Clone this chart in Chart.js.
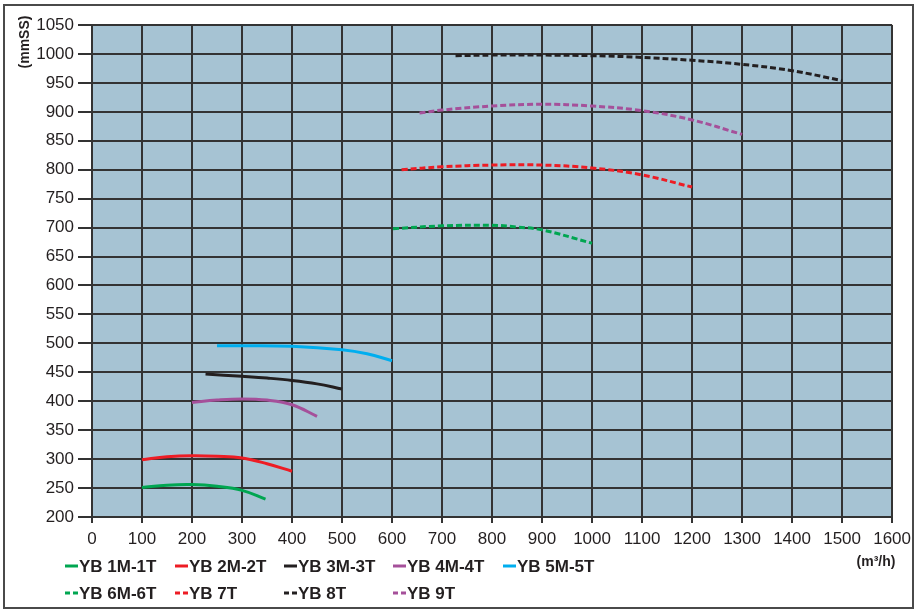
<!DOCTYPE html>
<html>
<head>
<meta charset="utf-8">
<script src="https://cdn.jsdelivr.net/npm/chart.js@4/dist/chart.umd.min.js"></script>
<style>
  html, body { margin: 0; padding: 0; background: #fff; }
  #wrap { position: relative; width: 917px; height: 612px; }
</style>
</head>
<body>
<div id="wrap"><canvas id="c" width="917" height="612"></canvas></div>
<script>
// ---- data ----
const xTicks = [0,100,200,300,400,500,600,700,800,900,1000,1100,1200,1300,1400,1500,1600];
const yTicks = [200,250,300,350,400,450,500,550,600,650,700,750,800,850,900,950,1000,1050];

const labels = ["YB 1M-1T","YB 2M-2T","YB 3M-3T","YB 4M-4T","YB 5M-5T","YB 6M-6T","YB 7T","YB 8T","YB 9T"];

const yb1x = [100, 150, 200, 250, 300, 347];
const yb1y = [251, 255, 256, 253, 246, 231];

const yb2x = [100, 150, 200, 250, 300, 350, 400];
const yb2y = [299, 304, 306, 305, 302, 292, 279];

const yb3x = [227, 300, 350, 400, 450, 500];
const yb3y = [447, 443, 440, 436, 430, 421];

const yb4x = [200, 250, 300, 350, 400, 450];
const yb4y = [398, 402, 404, 402, 394, 374];

const yb5x = [250, 300, 400, 500, 550, 600];
const yb5y = [496, 496, 495, 489, 482, 470];

const yb6x = [602, 700, 800, 850, 900, 1000];
const yb6y = [698, 703, 704, 701, 696, 673];

const yb7x = [619, 700, 800, 900, 1000, 1100, 1200];
const yb7y = [800, 805, 808, 808, 803, 791, 770];

const yb8x = [727, 800, 900, 1000, 1100, 1200, 1300, 1400, 1500];
const yb8y = [997, 998, 998, 997, 994, 989, 982, 971, 954];

const yb9x = [655, 700, 800, 900, 1000, 1100, 1200, 1300];
const yb9y = [898, 903, 910, 913, 910, 902, 886, 861];

const colors = ["#00a651","#ed1c24","#231f20","#a5509a","#00aeef","#00a651","#ed1c24","#231f20","#a5509a"];
const dashed = [false,false,false,false,false,true,true,true,true];

const seriesX = [yb1x,yb2x,yb3x,yb4x,yb5x,yb6x,yb7x,yb8x,yb9x];
const seriesY = [yb1y,yb2y,yb3y,yb4y,yb5y,yb6y,yb7y,yb8y,yb9y];

const datasets = labels.map((lab, i) => ({
  label: lab,
  data: seriesX[i].map((x, j) => ({ x: x, y: seriesY[i][j] })),
  borderColor: colors[i],
  borderWidth: 3,
  borderDash: dashed[i] ? [6, 3] : [],
  pointRadius: 0,
  fill: false,
  tension: 0.4
}));

const FONT = "'Liberation Sans', Arial, sans-serif";

const decor = {
  id: 'decor',
  beforeDraw(chart) {
    const ctx = chart.ctx, a = chart.chartArea;
    ctx.save();
    ctx.fillStyle = '#a6c3d3';
    ctx.fillRect(a.left, a.top, a.right - a.left, a.bottom - a.top);
    ctx.restore();
  },
  afterDraw(chart) {
    const ctx = chart.ctx;
    ctx.save();
    // outer frame
    ctx.strokeStyle = '#4a4a4a';
    ctx.lineWidth = 2;
    ctx.strokeRect(4, 5, 909, 603);
    // axis titles
    ctx.fillStyle = '#231f20';
    ctx.font = "bold 14px " + FONT;
    ctx.textAlign = 'center';
    ctx.textBaseline = 'middle';
    ctx.save();
    ctx.translate(25, 42);
    ctx.rotate(-Math.PI / 2);
    ctx.fillText('(mmSS)', 0, 0);
    ctx.restore();
    ctx.fillText('(m\u00b3/h)', 876, 562);
    // legend
    const colX = [65, 175, 284, 393, 503];
    const rowY = [566, 593];
    ctx.font = "bold 17px " + FONT;
    ctx.textAlign = 'left';
    chart.data.datasets.forEach((ds, i) => {
      const r = i < 5 ? 0 : 1;
      const c = i < 5 ? i : i - 5;
      const x = colX[c], y = rowY[r];
      ctx.strokeStyle = ds.borderColor;
      ctx.lineWidth = 3;
      ctx.setLineDash(dashed[i] ? [5, 3] : []);
      ctx.beginPath();
      ctx.moveTo(x, y);
      ctx.lineTo(x + 13, y);
      ctx.stroke();
      ctx.setLineDash([]);
      ctx.fillStyle = '#231f20';
      ctx.fillText(ds.label, x + 14, y + 1);
    });
    ctx.restore();
  }
};

new Chart(document.getElementById('c'), {
  type: 'line',
  data: { datasets: datasets },
  options: {
    responsive: false,
    animation: false,
    layout: { padding: { left: 0, top: 25, right: 24, bottom: 65 } },
    plugins: { legend: { display: false }, tooltip: { enabled: false } },
    scales: {
      x: {
        type: 'linear',
        min: 0, max: 1600,
        afterBuildTicks: s => { s.ticks = xTicks.map(v => ({ value: v })); },
        afterFit: s => { s.height = 30; },
        grid: { color: '#333333', lineWidth: 2, tickLength: 6, drawTicks: true },
        border: { color: '#333333', width: 2 },
        ticks: { color: '#231f20', font: { family: FONT, size: 17 }, padding: 6, maxRotation: 0, autoSkip: false,
                 callback: v => String(v) }
      },
      y: {
        type: 'linear',
        min: 200, max: 1050,
        afterBuildTicks: s => { s.ticks = yTicks.map(v => ({ value: v })); },
        afterFit: s => { s.width = 92; },
        grid: { color: '#333333', lineWidth: 2, tickLength: 14, drawTicks: true },
        border: { color: '#333333', width: 2 },
        ticks: { color: '#231f20', font: { family: FONT, size: 17 }, padding: 4, autoSkip: false,
                 callback: v => String(v) }
      }
    }
  },
  plugins: [decor]
});
</script>
</body>
</html>
